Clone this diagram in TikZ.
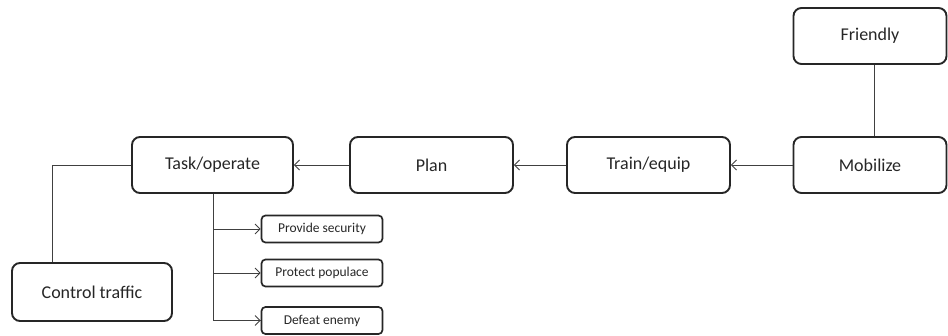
\documentclass[tikz,border=0pt]{standalone}
\usepackage{fontspec}
\setmainfont{Carlito}
\usetikzlibrary{arrows.meta}
\begin{document}
\begin{tikzpicture}[x=1pt,y=-1pt,
  bigbox/.style={draw=black!85,line width=1.9pt,rounded corners=8pt,minimum width=161pt,minimum height=56pt,inner sep=0pt,font=\fontsize{18}{21}\selectfont,text=black!85},
  smallbox/.style={draw=black!85,line width=1.7pt,rounded corners=4pt,minimum width=121pt,minimum height=27pt,inner sep=0pt,font=\fontsize{13.5}{15}\selectfont,text=black!85},
  link/.style={draw=black!75,line width=0.9pt},
  arrowlink/.style={link,-{Straight Barb[length=5pt,width=10pt,line width=0.9pt]}}]
\useasboundingbox (0,0) rectangle (948,336);
% main chain
\node[bigbox,minimum width=153pt] (friendly) at (870,36) {Friendly};
\node[bigbox,minimum width=153pt] (mobilize) at (870,165) {Mobilize};
\node[bigbox,minimum width=163pt] (train) at (648.5,165) {Train/equip};
\node[bigbox,minimum width=163pt] (plan) at (431.5,165) {Plan};
\node[bigbox] (task) at (212.5,165) {Task/operate};
\node[bigbox,minimum width=160pt,minimum height=58pt] (traffic) at (92,292) {Control traffic};
% tasks
\node[smallbox] (security) at (322,229) {Provide security};
\node[smallbox] (populace) at (322,273) {Protect populace};
\node[smallbox] (enemy) at (322,320.5) {Defeat enemy};
% connectors
\draw[link] (friendly.south -| 874,0) -- (mobilize.north -| 874,0);
\draw[arrowlink] (mobilize) -- (train);
\draw[arrowlink] (train) -- (plan);
\draw[arrowlink] (plan) -- (task);
\draw[link] (task.west) -| (traffic.north -| 52,0);
\coordinate (trunk) at (task.south -| 213,0);
\draw[link] (trunk) |- (enemy.west);
\draw[arrowlink] (trunk |- security.west) -- (security.west);
\draw[arrowlink] (trunk |- populace.west) -- (populace.west);
\draw[arrowlink] (trunk |- enemy.west) -- (enemy.west);
\end{tikzpicture}
\end{document}
